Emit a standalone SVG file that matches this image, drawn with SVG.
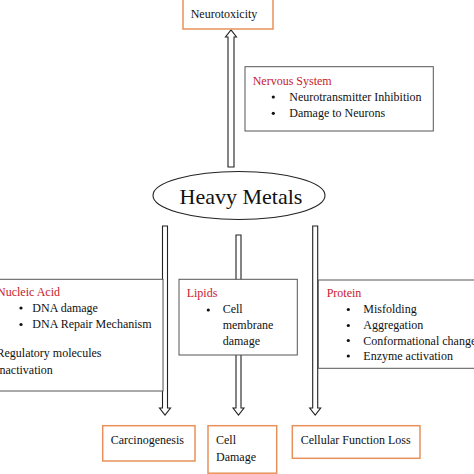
<svg xmlns="http://www.w3.org/2000/svg" width="474" height="474" viewBox="0 0 474 474">
<style>
text{font-family:"Liberation Serif","Times New Roman",serif;font-size:12px;fill:#111}
.t{fill:#c8202a}
.ob{fill:#fff;stroke:#e8915a;stroke-width:1.5}
.gb{fill:#fff;stroke:#555;stroke-width:1}
.ar{fill:#fff;stroke:#222;stroke-width:1.1}
</style>
<rect width="474" height="474" fill="#fff"/>
<g id="connectors">
<polygon class="ar" points="228,167 234,167 234,37 236.5,37 231,30 225.5,37 228,37"/>
<polygon class="ar" points="162.5,226 167.5,226 167.5,408 170.5,408 165,415 159.5,408 162.5,408"/>
<polygon class="ar" points="236,235 241,235 241,408 244,408 238.5,415 233,408 236,408"/>
<polygon class="ar" points="312.7,226 317.7,226 317.7,408 320.7,408 315.2,415 309.7,408 312.7,408"/>
</g>
<g id="neurotoxicity">
<rect class="ob" x="183" y="-5" width="90" height="34"/>
<text x="190.7" y="18">Neurotoxicity</text>
</g>
<g id="nervous-system">
<rect class="gb" x="245" y="66.7" width="188.3" height="64.3"/>
<text class="t" x="252.7" y="85">Nervous System</text>
<circle cx="273.3" cy="97" r="1.6" fill="#111"/>
<text x="289.3" y="100.5">Neurotransmitter Inhibition</text>
<circle cx="273.3" cy="113.3" r="1.6" fill="#111"/>
<text x="289.3" y="117">Damage to Neurons</text>
</g>
<g id="heavy-metals">
<ellipse cx="239" cy="195.5" rx="86" ry="24" fill="#fff" stroke="#222" stroke-width="1.1"/>
<text x="241" y="203.5" text-anchor="middle" style="font-size:22px">Heavy Metals</text>
</g>
<g id="nucleic-acid">
<rect class="gb" x="-5" y="279.3" width="168" height="111.7"/>
<text class="t" x="-3" y="296">Nucleic Acid</text>
<circle cx="21" cy="308" r="1.6" fill="#111"/>
<text x="32.3" y="311.7">DNA damage</text>
<circle cx="21" cy="324.5" r="1.6" fill="#111"/>
<text x="32.3" y="328.3">DNA Repair Mechanism</text>
<text x="-3.5" y="356.7">Regulatory molecules</text>
<text x="-4.5" y="374">Inactivation</text>
</g>
<g id="lipids">
<rect class="gb" x="179" y="279.3" width="118.3" height="75.7"/>
<text class="t" x="186.7" y="297.3">Lipids</text>
<circle cx="208.3" cy="310" r="1.6" fill="#111"/>
<text x="222.7" y="313.3">Cell</text>
<text x="222.7" y="329.3">membrane</text>
<text x="222.7" y="345.3">damage</text>
</g>
<g id="protein">
<rect class="gb" x="318.3" y="280" width="165" height="88.3"/>
<text class="t" x="326.7" y="297.3">Protein</text>
<circle cx="348.3" cy="309.5" r="1.6" fill="#111"/>
<text x="363.3" y="313.3">Misfolding</text>
<circle cx="348.3" cy="325.5" r="1.6" fill="#111"/>
<text x="363.3" y="329">Aggregation</text>
<circle cx="348.3" cy="340.5" r="1.6" fill="#111"/>
<text x="363.3" y="344.5">Conformational changes</text>
<circle cx="348.3" cy="356" r="1.6" fill="#111"/>
<text x="363.3" y="360">Enzyme activation</text>
</g>
<g id="carcinogenesis">
<rect class="ob" x="102.7" y="425.7" width="92.3" height="35.3"/>
<text x="110.7" y="444">Carcinogenesis</text>
</g>
<g id="cell-damage">
<rect class="ob" x="208" y="425.7" width="68.7" height="47.5"/>
<text x="216" y="444">Cell</text>
<text x="216" y="460.7">Damage</text>
</g>
<g id="cellular-function-loss">
<rect class="ob" x="292.3" y="425.7" width="127.7" height="32.6"/>
<text x="300.7" y="444">Cellular Function Loss</text>
</g>
</svg>
